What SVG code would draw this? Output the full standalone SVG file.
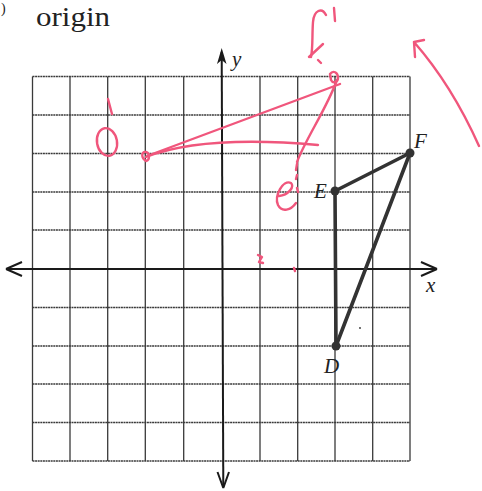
<svg xmlns="http://www.w3.org/2000/svg" width="482" height="491" viewBox="0 0 482 491">
<style>
.grid{stroke:#3a3a3a;stroke-width:1.3;fill:none}
.gridh{stroke:#3a3a3a;stroke-width:1.6;fill:none;stroke-dasharray:2 0.6}
.axis{stroke:#1a1a1a;stroke-width:2;fill:none}
.tri{stroke:#333;stroke-width:3.6;fill:none;stroke-linecap:round}
.pt{fill:#333}
.lbl{font-family:"Liberation Serif",serif;font-style:italic;font-size:21px;fill:#222}
.pink{stroke:#f0567c;stroke-width:2.4;fill:none;stroke-linecap:round;stroke-linejoin:round}
.head{font-family:"Liberation Serif",serif;fill:#222}
</style>
<rect width="482" height="491" fill="#fff"/>
<text class="head" x="1" y="13" font-size="14">)</text>
<text class="head" x="36" y="25.5" font-size="28" textLength="74" lengthAdjust="spacingAndGlyphs">origin</text>
<g id="grid">
<path class="grid" d="M32.5,76.5V461M70,76.5V461M107.7,76.5V461M145.3,76.5V461M183.7,76.5V461M260,76.5V461M297.7,76.5V461M335,76.5V461M372.7,76.5V461M410,76.5V461"/>
<path class="gridh" d="M32.5,76.5H410M32.5,115H410M32.5,153.5H410M32.5,192H410M32.5,230H410M32.5,307.5H410M32.5,346H410M32.5,384H410M32.5,422.5H410M32.5,461H410"/>
</g>
<g id="axes">
<path class="axis" d="M6,269H437"/>
<path class="axis" d="M6,269L22,262M6,269L22,276M437,269L421,262M437,269L421,276"/>
<path class="axis" d="M221.7,52L223.3,487"/>
<path d="M221.7,48L217,64L221.7,60L226.5,64Z" fill="#1a1a1a"/>
<path class="axis" d="M223.3,488L217.5,472M223.3,488L229,472"/>
<text class="lbl" x="232" y="66">y</text>
<text class="lbl" x="426" y="292">x</text>
</g>
<g id="connectors">
<path class="tri" d="M335,191L410,153"/>
<path class="tri" d="M410,153L336,346"/>
<path class="tri" d="M335,191L336,346"/>
</g>
<g id="D"><circle class="pt" cx="336" cy="346" r="4.5"/><text class="lbl" x="324" y="373">D</text></g>
<g id="E"><circle class="pt" cx="335" cy="191" r="4.5"/><text class="lbl" x="314" y="198">E</text></g>
<g id="F"><circle class="pt" cx="410" cy="153" r="4.5"/><text class="lbl" x="414" y="148">F</text></g>
<circle cx="360" cy="328" r="0.9" fill="#333"/>
<g id="annotations">
<path class="pink" d="M326,15C322,7 314,10 313,22C312,35 313,48 311,57"/>
<path class="pink" d="M309,57L323,44M318,60L321,63"/>
<path class="pink" d="M334,8L335,21"/>
<path class="pink" d="M330,74C333,70 338,72 338,78C338,82 333,84 331,80Z" fill="#f0567c"/>
<path class="pink" d="M147,156L340,84"/>
<path class="pink" d="M146,157C190,140 250,139 318,145"/>
<path class="pink" d="M337,80C326,110 306,138 297,162"/>
<path class="pink" d="M297,164L296,170M297,175L296,179" stroke-width="1.6"/>
<path class="pink" d="M279,196C288,195 295,187 291,183C283,179 274,196 278,205C282,213 291,210 296,203"/>
<path class="pink" d="M297,188L298,192"/>
<ellipse class="pink" cx="107" cy="142" rx="10" ry="14" transform="rotate(-10 107 142)"/>
<path class="pink" d="M108,99L112,114"/>
<path class="pink" d="M146,152C141,151 141,158 146,161C150,160 150,153 146,152Z"/>
<path class="pink" d="M479,146C462,108 442,74 414,42M414,42L424,40M414,42L415,57"/>
<path class="pink" d="M258,255L262,257L259,262L263,263" stroke-width="1.2"/>
<path class="pink" d="M294,268L295,271" stroke-width="1.2"/>
</g>
</svg>
